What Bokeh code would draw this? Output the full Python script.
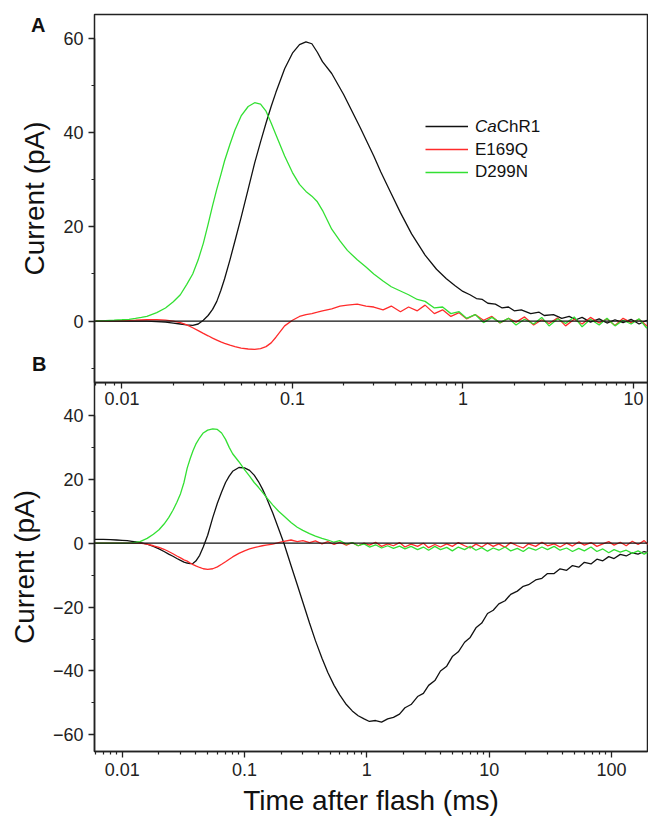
from bokeh.plotting import figure
from bokeh.models import Range1d, FixedTicker, Span, Legend, LegendItem, CustomJSTickFormatter, Div
from bokeh.layouts import column
from bokeh.embed import file_html
from bokeh.resources import INLINE

FONT = "Liberation Sans"

# ---------------- data (time in ms, current in pA) ----------------
A_CACHR1 = [(0.007, 0), (0.008, 0), (0.009, 0), (0.010, 0), (0.011, 0), (0.012, 0), (0.013, 0), (0.014, 0),
            (0.016, -0.1), (0.018, -0.2), (0.020, -0.4), (0.022, -0.6), (0.024, -0.8), (0.026, -0.9), (0.028, -0.6),
            (0.030, 0.2), (0.032, 1.2), (0.034, 2.5), (0.036, 4.2), (0.038, 6.5), (0.040, 9), (0.043, 13), (0.046, 17),
            (0.050, 22), (0.055, 28), (0.060, 33.5), (0.065, 38), (0.070, 42), (0.075, 45.5), (0.080, 48.5), (0.090, 53.5),
            (0.100, 56.8), (0.110, 58.6), (0.120, 59.2), (0.130, 58.8), (0.140, 57), (0.150, 55), (0.170, 52.5),
            (0.200, 48), (0.250, 41), (0.300, 35), (0.330, 31.6), (0.380, 27), (0.430, 23), (0.500, 18.5), (0.600, 14),
            (0.700, 11), (0.800, 9), (0.900, 7.5), (1.00, 6.3), (1.10, 5.6), (1.20, 4.8), (1.30, 4.6), (1.40, 3.8),
            (1.55, 3.6), (1.70, 2.8), (1.85, 3.0), (2.0, 2.2), (2.2, 2.4), (2.5, 1.6), (2.8, 1.9), (3.0, 1.2), (3.4, 1.4),
            (3.8, 0.6), (4.2, 1.0), (4.6, 0.3), (5.0, 0.8), (5.6, -0.2), (6.3, 0.5), (7.0, -0.4), (7.8, 0.3), (8.7, -0.3),
            (9.7, 0.4), (10.8, -0.6), (12.0, 0.2)]

A_E169Q = [(0.007, 0), (0.008, 0), (0.009, 0.05), (0.010, 0.1), (0.011, 0.15), (0.012, 0.2), (0.013, 0.25), (0.014, 0.3),
           (0.016, 0.3), (0.018, 0.2), (0.020, 0), (0.022, -0.3), (0.024, -0.8), (0.026, -1.4), (0.028, -2.0), (0.030, -2.6),
           (0.032, -3.1), (0.034, -3.6), (0.036, -4.0), (0.038, -4.4), (0.040, -4.7), (0.043, -5.1), (0.046, -5.4),
           (0.050, -5.7), (0.055, -5.9), (0.060, -6.0), (0.065, -5.8), (0.070, -5.4), (0.075, -4.6), (0.080, -3.4),
           (0.090, -1.0), (0.100, 0.2), (0.110, 1.0), (0.120, 1.4), (0.130, 1.6), (0.140, 1.9), (0.150, 2.2), (0.170, 2.6),
           (0.190, 3.2), (0.210, 3.4), (0.240, 3.6), (0.270, 3.2), (0.300, 3.0), (0.340, 2.4), (0.380, 3.2), (0.430, 2.0),
           (0.480, 3.0), (0.540, 2.2), (0.600, 3.4), (0.680, 1.6), (0.760, 2.4), (0.850, 1.0), (0.950, 1.8), (1.05, 0.5),
           (1.18, 1.4), (1.32, 0.2), (1.48, 1.0), (1.65, -0.4), (1.85, 0.6), (2.05, -0.2), (2.3, 0.9), (2.6, -0.8), (2.9, 0.3),
           (3.2, -0.5), (3.6, 0.7), (4.0, -1.0), (4.5, 0.4), (5.0, -0.6), (5.6, 0.8), (6.3, -0.4), (7.0, 0.5), (7.8, -0.9),
           (8.7, 0.6), (9.7, -0.3), (10.8, 0.4), (12.0, -1.0)]

A_D299N = [(0.007, 0), (0.008, 0.1), (0.009, 0.2), (0.010, 0.3), (0.011, 0.4), (0.012, 0.6), (0.013, 0.8), (0.014, 1.0),
           (0.016, 1.8), (0.018, 2.8), (0.020, 4.1), (0.022, 5.6), (0.024, 7.8), (0.026, 10), (0.028, 13), (0.030, 16.5),
           (0.032, 20.5), (0.034, 24.5), (0.036, 28), (0.038, 31), (0.040, 34), (0.043, 37.5), (0.046, 40.5), (0.050, 43.5),
           (0.055, 45.5), (0.060, 46.3), (0.065, 46), (0.070, 44.5), (0.075, 42), (0.080, 39.5), (0.090, 35), (0.100, 31.5),
           (0.110, 29), (0.120, 27.5), (0.130, 26.5), (0.140, 25.3), (0.150, 23.5), (0.170, 19.5), (0.190, 17), (0.210, 15),
           (0.240, 13), (0.270, 11.5), (0.300, 10), (0.340, 8.5), (0.380, 7.3), (0.430, 6.4), (0.480, 5.6), (0.540, 4.6),
           (0.600, 4.2), (0.680, 2.8), (0.760, 3.0), (0.850, 1.6), (0.950, 2.0), (1.05, 0.6), (1.18, 1.4), (1.32, -0.3),
           (1.48, 0.8), (1.65, -0.3), (1.85, 0.6), (2.05, -0.8), (2.3, 0.4), (2.6, -0.6), (2.9, 0.8), (3.2, -1.0), (3.6, 0.5),
           (4.0, -0.5), (4.5, 0.9), (5.0, -1.2), (5.6, 0.4), (6.3, -0.8), (7.0, 0.6), (7.8, -1.0), (8.7, 0.2), (9.7, -0.6),
           (10.8, 0.5), (12.0, -1.5)]

B_CACHR1 = [(0.006, 1.2), (0.007, 1.2), (0.008, 1.1), (0.009, 1.0), (0.010, 0.9), (0.011, 0.8), (0.012, 0.6), (0.013, 0.4),
            (0.014, 0.2), (0.016, -0.3), (0.018, -1.0), (0.020, -1.8), (0.022, -2.6), (0.024, -3.4), (0.026, -4.1),
            (0.028, -4.8), (0.030, -5.4), (0.032, -5.9), (0.034, -6.2), (0.036, -6.4), (0.038, -6.3), (0.040, -5.6),
            (0.043, -3.8), (0.046, -1.2), (0.050, 2.5), (0.055, 8), (0.060, 12.5), (0.065, 16), (0.070, 19), (0.075, 21),
            (0.080, 22.5), (0.090, 23.7), (0.100, 23.6), (0.110, 22.8), (0.120, 21.3), (0.130, 19.3), (0.140, 17), (0.150, 14.5),
            (0.170, 9.5), (0.190, 4.5), (0.210, 0), (0.240, -7), (0.270, -13), (0.300, -18.5), (0.340, -25), (0.380, -30.5),
            (0.430, -36), (0.480, -40.5), (0.540, -44.5), (0.600, -47.5), (0.680, -50.5), (0.760, -52.5), (0.850, -54),
            (0.950, -55), (1.05, -55.8), (1.18, -55.5), (1.32, -56), (1.48, -55), (1.65, -54.5), (1.85, -53.5), (2.05, -51.5),
            (2.3, -50.5), (2.6, -48), (2.9, -47), (3.2, -44.5), (3.6, -43), (4.0, -40), (4.5, -38.5), (5.0, -35.5),
            (5.6, -34), (6.3, -31), (7.0, -29.5), (7.8, -26.5), (8.7, -25), (9.7, -22), (10.8, -21), (12.0, -19),
            (13.5, -18), (15, -16), (17, -15), (19, -13.5), (21, -13), (24, -11.5), (27, -11), (30, -9.5), (34, -9.5),
            (38, -8), (43, -8.5), (48, -7), (54, -7.5), (60, -6), (68, -6.5), (76, -5), (85, -5.5), (95, -4.2), (105, -4.8),
            (118, -3.5), (132, -4), (148, -3), (165, -3.4), (185, -2.6), (200, -3)]

B_E169Q = [(0.006, 0), (0.007, 0), (0.008, 0), (0.009, 0), (0.010, 0), (0.011, 0), (0.012, 0), (0.013, 0), (0.014, 0),
           (0.016, -0.3), (0.018, -0.8), (0.020, -1.3), (0.022, -1.9), (0.024, -2.6), (0.026, -3.3), (0.028, -4.0),
           (0.030, -4.6), (0.032, -5.2), (0.034, -5.6), (0.036, -6.2), (0.038, -6.7), (0.040, -7.1), (0.043, -7.6),
           (0.046, -8.0), (0.050, -8.2), (0.055, -8.0), (0.060, -7.4), (0.065, -6.6), (0.070, -5.8), (0.075, -5.0),
           (0.080, -4.3), (0.090, -3.2), (0.100, -2.4), (0.110, -1.8), (0.120, -1.4), (0.130, -1.1), (0.140, -0.8),
           (0.150, -0.6), (0.170, -0.3), (0.190, 0.2), (0.210, 0.6), (0.240, 1.0), (0.270, 0.5), (0.300, 0.8), (0.340, 0.2),
           (0.380, 0.7), (0.430, -0.2), (0.480, 0.5), (0.540, -0.4), (0.600, 0.3), (0.680, -0.6), (0.760, 0.2), (0.850, -0.8),
           (0.950, 0.0), (1.05, -0.6), (1.18, 0.3), (1.32, -1.0), (1.48, -0.2), (1.65, -0.8), (1.85, 0.2), (2.05, -1.2),
           (2.3, -0.3), (2.6, -1.0), (2.9, 0.0), (3.2, -1.4), (3.6, -0.4), (4.0, -1.2), (4.5, -0.2), (5.0, -1.0), (5.6, 0.2),
           (6.3, -0.8), (7.0, -1.5), (7.8, -0.3), (8.7, -1.2), (9.7, 0.0), (10.8, -1.0), (12.0, -0.2), (13.5, -1.3),
           (15, 0.2), (17, -0.8), (19, -1.5), (21, -0.2), (24, -1.0), (27, 0.3), (30, -0.8), (34, -0.2), (38, -1.2), (43, 0.0),
           (48, -0.9), (54, 0.4), (60, -0.6), (68, 0.2), (76, -1.0), (85, -0.2), (95, 0.5), (105, -0.6), (118, 0.3),
           (132, -0.8), (148, 0.6), (165, -0.4), (185, 0.8), (200, -0.5)]

B_D299N = [(0.006, 0), (0.007, 0), (0.008, 0), (0.009, 0), (0.010, 0), (0.011, 0), (0.012, 0.1), (0.013, 0.3), (0.014, 0.5),
           (0.016, 1.5), (0.018, 2.8), (0.020, 4.2), (0.022, 6), (0.024, 8), (0.026, 10.3), (0.028, 12.8), (0.030, 15.5),
           (0.032, 19), (0.034, 23.5), (0.036, 26.5), (0.038, 29), (0.040, 31), (0.043, 33), (0.046, 34.5), (0.050, 35.4),
           (0.055, 35.8), (0.060, 35.6), (0.065, 34.5), (0.070, 32.5), (0.075, 30), (0.080, 28), (0.090, 25.5), (0.100, 23),
           (0.110, 21), (0.120, 19), (0.130, 17.5), (0.140, 16), (0.150, 14.5), (0.170, 12), (0.190, 10), (0.210, 8.5),
           (0.240, 6.5), (0.270, 5), (0.300, 4), (0.340, 3), (0.380, 2.2), (0.430, 1.5), (0.480, 1.0), (0.540, 0.3),
           (0.600, 0.8), (0.680, -0.3), (0.760, 0.2), (0.850, -0.8), (0.950, -0.2), (1.05, -1.2), (1.18, -0.5), (1.32, -1.5),
           (1.48, -0.8), (1.65, -1.6), (1.85, -0.9), (2.05, -1.8), (2.3, -1.0), (2.6, -2.0), (2.9, -1.2), (3.2, -2.2),
           (3.6, -1.0), (4.0, -2.0), (4.5, -1.3), (5.0, -2.4), (5.6, -1.2), (6.3, -2.0), (7.0, -1.0), (7.8, -2.2), (8.7, -1.4),
           (9.7, -2.5), (10.8, -1.5), (12.0, -2.2), (13.5, -1.2), (15, -2.4), (17, -1.6), (19, -2.6), (21, -1.4), (24, -2.2),
           (27, -1.2), (30, -2.0), (34, -1.0), (38, -2.2), (43, -1.5), (48, -2.6), (54, -1.6), (60, -2.4), (68, -1.2),
           (76, -2.6), (85, -1.8), (95, -3.0), (105, -2.0), (118, -2.8), (132, -2.2), (148, -3.2), (165, -2.4), (185, -3.4),
           (200, -2.8)]

SERIES_NAMES = ["CaChR1", "E169Q", "D299N"]
SERIES_COLORS = ["#111111", "#ff2b2b", "#33e033"]
PANEL_LETTERS = ["A", "B"]

A_X_MAJOR = [0.01, 0.1, 1, 10]
B_X_MAJOR = [0.01, 0.1, 1, 10, 100]
A_Y_MAJOR = [0, 20, 40, 60]
A_Y_MINOR = [-10, 10, 30, 50]
B_Y_MAJOR = [-60, -40, -20, 0, 20, 40]
B_Y_MINOR = [-50, -30, -10, 10, 30]


def log_minors(lo_exp, hi_exp):
    return [k * 10.0 ** e for e in range(lo_exp, hi_exp + 1) for k in range(2, 10)]


fmt = CustomJSTickFormatter(code="return String(Number(tick.toPrecision(6)));")


def style(p, xmajor, xminor, ymajor, yminor, ybounds):
    p.xgrid.visible = False
    p.ygrid.visible = False
    p.outline_line_color = "#222222"
    p.outline_line_width = 1.5
    for ax in (p.xaxis[0], p.yaxis[0]):
        ax.axis_line_color = "#222222"
        ax.axis_line_width = 1.5
        ax.major_tick_line_color = "#222222"
        ax.minor_tick_line_color = "#222222"
        ax.major_tick_line_width = 1.3
        ax.minor_tick_line_width = 1.2
        ax.major_tick_in = 0
        ax.minor_tick_in = 0
        ax.major_tick_out = 6
        ax.minor_tick_out = 3
        ax.major_label_text_font = FONT
        ax.major_label_text_font_size = "18px"
        ax.major_label_text_color = "#222222"
        ax.axis_label_text_font = FONT
        ax.axis_label_text_font_style = "normal"
        ax.axis_label_text_color = "#111111"
    p.xaxis[0].ticker = FixedTicker(ticks=xmajor, minor_ticks=xminor)
    p.xaxis[0].formatter = fmt
    p.yaxis[0].ticker = FixedTicker(ticks=ymajor, minor_ticks=yminor)
    p.yaxis[0].bounds = ybounds
    p.yaxis[0].major_label_standoff = 5
    p.yaxis[0].axis_label = "Current (pA)"
    p.yaxis[0].axis_label_text_font_size = "28px"
    p.yaxis[0].axis_label_standoff = 10
    p.add_layout(Span(location=0, dimension="width", line_color="#111111", line_width=1.3))


def draw(p, series):
    rs = []
    for data, color in zip(series, SERIES_COLORS):
        xs = [d[0] for d in data]
        ys = [d[1] for d in data]
        rs.append(p.line(xs, ys, line_color=color, line_width=1.3))
    return rs


def letter_html(s):
    return ('<div style="font-family:\'Liberation Sans\',Arial,sans-serif;font-size:20px;'
            'font-weight:bold;color:#111;line-height:22px;white-space:nowrap">%s</div>' % s)


legend_html = ('<div style="font-family:\'Liberation Sans\',Arial,sans-serif;font-size:17px;'
               'line-height:22.5px;color:#111;white-space:nowrap">'
               + "<br>".join(["<i>%s</i>%s" % (SERIES_NAMES[0][:2], SERIES_NAMES[0][2:])] + SERIES_NAMES[1:])
               + "</div>")

# HTML texts laid over the transparent figure (net zero height in the column)
divA = Div(text=letter_html(PANEL_LETTERS[0]), width=30, height=22, margin=(14, 0, -36, 31))
divL = Div(text=legend_html, width=120, height=68, margin=(116, 0, -184, 475))

# ---------------- panel A ----------------
pA = figure(width=648, height=412, x_axis_type="log",
            x_range=Range1d(0.0069, 12.1), y_range=Range1d(-13.0, 65.0),
            output_backend="svg", toolbar_location=None,
            min_border_left=94, min_border_right=1, min_border_top=14, min_border_bottom=30,
            background_fill_color=None, border_fill_color=None)
style(pA, A_X_MAJOR, log_minors(-3, 1), A_Y_MAJOR, A_Y_MINOR, (-13.0, 60))
pA.xaxis[0].major_label_standoff = 3
rA = draw(pA, [A_CACHR1, A_E169Q, A_D299N])

legend = Legend(items=[LegendItem(label="", renderers=[r]) for r in rA],
                location=(331, 199), glyph_width=43, glyph_height=22, label_height=22,
                spacing=1, padding=0, margin=0, label_standoff=0, label_width=0,
                border_line_color=None, background_fill_alpha=0)
pA.add_layout(legend)

divB = Div(text=letter_html(PANEL_LETTERS[1]), width=30, height=22, margin=(-59, 0, 0, 32))

# ---------------- panel B ----------------
pB = figure(width=648, height=441, x_axis_type="log",
            x_range=Range1d(0.00594, 197), y_range=Range1d(-65.2, 50.3),
            output_backend="svg", toolbar_location=None,
            min_border_left=94, min_border_right=1, min_border_top=0, min_border_bottom=72,
            background_fill_color=None, border_fill_color=None, margin=(7, 0, 0, 0))
style(pB, B_X_MAJOR, log_minors(-3, 2), B_Y_MAJOR, B_Y_MINOR, (-65.2, 40))
pB.xaxis[0].major_label_standoff = 5
pB.xaxis[0].axis_label = "Time after flash (ms)"
pB.xaxis[0].axis_label_text_font_size = "28px"
pB.xaxis[0].axis_label_standoff = 6
draw(pB, [B_CACHR1, B_E169Q, B_D299N])

layout = column(divA, divL, pA, divB, pB, spacing=0)
open("out.html", "w").write(file_html(layout, INLINE))
